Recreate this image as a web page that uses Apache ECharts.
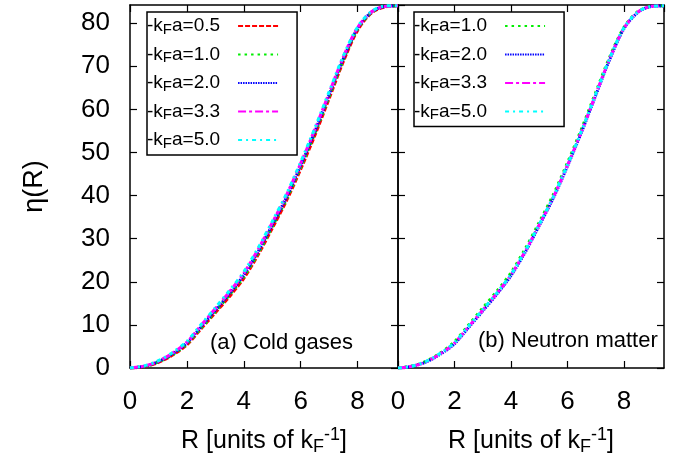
<!DOCTYPE html>
<html>
<head>
<meta charset="utf-8">
<script src="https://cdn.jsdelivr.net/npm/echarts@6/dist/echarts.min.js"></script>
<style>
html, body { margin: 0; padding: 0; background: #fff; }
#chart { width: 689px; height: 462px; }
</style>
</head>
<body>
<div id="chart"></div>
<script>
var dom = document.getElementById("chart");
var myChart = echarts.init(dom);

// R values, shared by all curves
var rVals = [0, 0.5, 1.0, 1.5, 2.0, 2.5, 3.0, 3.5, 4.0, 4.5, 5.0, 5.5, 6.0, 6.5, 7.0, 7.5, 8.0, 8.5, 9.0, 9.42];

// (a) cold gases
var coldNames = ['kFa=0.5', 'kFa=1.0', 'kFa=2.0', 'kFa=3.3', 'kFa=5.0'];
var cold05 = [0, 0.3, 1.3, 3.0, 5.4, 9.1, 12.8, 16.6, 20.8, 26.2, 32.4, 38.8, 46.1, 54.0, 62.5, 71.1, 78.3, 82.4, 83.8, 84.0];
var cold10 = [0, 0.35, 1.4, 3.1, 5.6, 9.3, 13.1, 17.0, 21.2, 26.6, 32.8, 39.2, 46.6, 54.5, 63.0, 71.5, 78.6, 82.5, 83.9, 84.0];
var cold20 = [0, 0.4, 1.5, 3.3, 5.8, 9.6, 13.4, 17.3, 21.6, 27.0, 33.2, 39.6, 47.0, 54.9, 63.4, 71.8, 78.8, 82.6, 83.9, 84.0];
var cold33 = [0, 0.45, 1.6, 3.5, 6.0, 9.9, 13.8, 17.7, 22.0, 27.5, 33.7, 40.1, 47.5, 55.4, 63.8, 72.2, 79.0, 82.7, 83.9, 84.0];
var cold50 = [0, 0.5, 1.7, 3.6, 6.2, 10.1, 14.0, 18.0, 22.3, 27.8, 34.0, 40.4, 47.8, 55.7, 64.1, 72.4, 79.1, 82.8, 84.0, 84.0];

// (b) neutron matter
var neutNames = ['kFa=1.0', 'kFa=2.0', 'kFa=3.3', 'kFa=5.0'];
var neut10 = [0, 0.45, 1.6, 3.5, 6.1, 10.0, 13.9, 17.8, 22.1, 27.6, 33.8, 40.2, 47.6, 55.5, 63.9, 72.2, 79.0, 82.7, 83.9, 84.0];
var neut20 = [0, 0.4, 1.4, 3.2, 5.6, 9.4, 13.2, 17.1, 21.4, 26.8, 33.0, 39.4, 46.8, 54.7, 63.2, 71.6, 78.7, 82.5, 83.9, 84.0];
var neut33 = [0, 0.4, 1.5, 3.3, 5.8, 9.6, 13.4, 17.3, 21.6, 27.0, 33.2, 39.6, 47.0, 54.9, 63.4, 71.8, 78.8, 82.6, 83.9, 84.0];
var neut50 = [0, 0.42, 1.55, 3.4, 5.9, 9.7, 13.5, 17.4, 21.7, 27.1, 33.3, 39.7, 47.1, 55.0, 63.5, 71.9, 78.9, 82.6, 83.9, 84.0];

var styles = {
    'kFa=0.5': { color: '#ff0000', dash: [5, 2] },
    'kFa=1.0': { color: '#00ee00', dash: [2.5, 4] },
    'kFa=2.0': { color: '#0000ff', dash: [1.5, 1] },
    'kFa=3.3': { color: '#ff00ff', dash: [8, 3, 3, 3] },
    'kFa=5.0': { color: '#00ffff', dash: [4, 4, 2, 4] }
};

function pairs(ys) {
    return rVals.map(function (r, i) { return [r, ys[i]]; });
}

function mkSeries(name, ys, gi) {
    return {
        name: name,
        type: 'line',
        xAxisIndex: gi * 2,
        yAxisIndex: gi * 2,
        data: pairs(ys),
        smooth: 0.3,
        symbol: 'none',
        animation: false,
        lineStyle: { color: styles[name].color, width: 3, type: styles[name].dash },
        itemStyle: { color: styles[name].color }
    };
}

var font = 'Liberation Sans, Arial, sans-serif';
var xMax = 9.42, yMax = 84.2;

var axisLine = { show: true, onZero: false, lineStyle: { color: '#000', width: 1.5 } };
var tick = { show: true, inside: true, length: 7, lineStyle: { color: '#000', width: 1.2 } };

var xName = 'R [units of k{sub|F}{sup|-1}]';
var nameRich = {
    sub: { fontSize: 18, lineHeight: 8, verticalAlign: 'bottom', fontFamily: font, color: '#000' },
    sup: { fontSize: 18, lineHeight: 10, verticalAlign: 'top', fontFamily: font, color: '#000' }
};

function xAxes(gi) {
    return [{
        type: 'value', gridIndex: gi, min: 0, max: xMax, interval: 2, position: 'bottom',
        axisLine: axisLine, axisTick: tick, splitLine: { show: false },
        axisLabel: { show: true, showMaxLabel: false, fontSize: 26, color: '#000', fontFamily: font, margin: 21 },
        name: xName, nameLocation: 'middle', nameGap: 58,
        nameTextStyle: { fontSize: 25, color: '#000', fontFamily: font, lineHeight: 30, rich: nameRich }
    }, {
        type: 'value', gridIndex: gi, min: 0, max: xMax, interval: 2, position: 'top',
        axisLine: axisLine, axisTick: tick, splitLine: { show: false }, axisLabel: { show: false }
    }];
}

function yAxes(gi) {
    return [{
        type: 'value', gridIndex: gi, min: 0, max: yMax, interval: 10, position: 'left',
        axisLine: axisLine, axisTick: tick, splitLine: { show: false },
        axisLabel: { show: gi === 0, showMaxLabel: false, fontSize: 26, color: '#000', fontFamily: font, margin: 20 },
        name: gi === 0 ? 'η(R)' : '', nameLocation: 'middle', nameGap: 82,
        nameTextStyle: { fontSize: 27, color: '#000', fontFamily: font }
    }, {
        type: 'value', gridIndex: gi, min: 0, max: yMax, interval: 10, position: 'right',
        axisLine: axisLine, axisTick: tick, splitLine: { show: false }, axisLabel: { show: false }
    }];
}

var legendRich = {
    s: { fontSize: 15, lineHeight: 8, verticalAlign: 'bottom', fontFamily: font, color: '#000' },
    v: { fontSize: 19, lineHeight: 22, fontFamily: font, color: '#000' },
    w: { fontSize: 19, lineHeight: 22, fontFamily: font, color: '#000', padding: [0, 13, 0, 0] }
};
function legendFmt(name) {
    return '{v|-k}{s|F}{w|a=' + name.split('=')[1] + '}';
}
function mkLegend(names, left) {
    return {
        data: names, orient: 'vertical', left: left, top: 12, align: 'right',
        itemWidth: 40, itemHeight: 8, itemGap: 6.5,
        padding: [3, 18, 4, 0],
        borderColor: '#000', borderWidth: 1.5,
        selectedMode: false,
        itemStyle: { opacity: 0 },
        formatter: legendFmt,
        textStyle: { fontSize: 19, color: '#000', fontFamily: font, lineHeight: 22, rich: legendRich }
    };
}

var series = [
    mkSeries('kFa=0.5', cold05, 0),
    mkSeries('kFa=1.0', cold10, 0),
    mkSeries('kFa=2.0', cold20, 0),
    mkSeries('kFa=3.3', cold33, 0),
    mkSeries('kFa=5.0', cold50, 0),
    mkSeries('kFa=1.0', neut10, 1),
    mkSeries('kFa=2.0', neut20, 1),
    mkSeries('kFa=3.3', neut33, 1),
    mkSeries('kFa=5.0', neut50, 1)
];

var option = {
    backgroundColor: '#fff',
    animation: false,
    grid: [
        { left: 130, top: 5, width: 268, height: 363 },
        { left: 398, top: 5, width: 266, height: 363 }
    ],
    xAxis: xAxes(0).concat(xAxes(1)),
    yAxis: yAxes(0).concat(yAxes(1)),
    legend: [mkLegend(coldNames, 147), mkLegend(neutNames, 414)],
    graphic: [
        { type: 'text', left: 210, top: 332, style: { text: '(a) Cold gases', fontSize: 22, fontFamily: font, fill: '#000' } },
        { type: 'text', left: 478, top: 330, style: { text: '(b) Neutron matter', fontSize: 22, fontFamily: font, fill: '#000' } }
    ],
    series: series
};

myChart.setOption(option);
</script>
</body>
</html>
